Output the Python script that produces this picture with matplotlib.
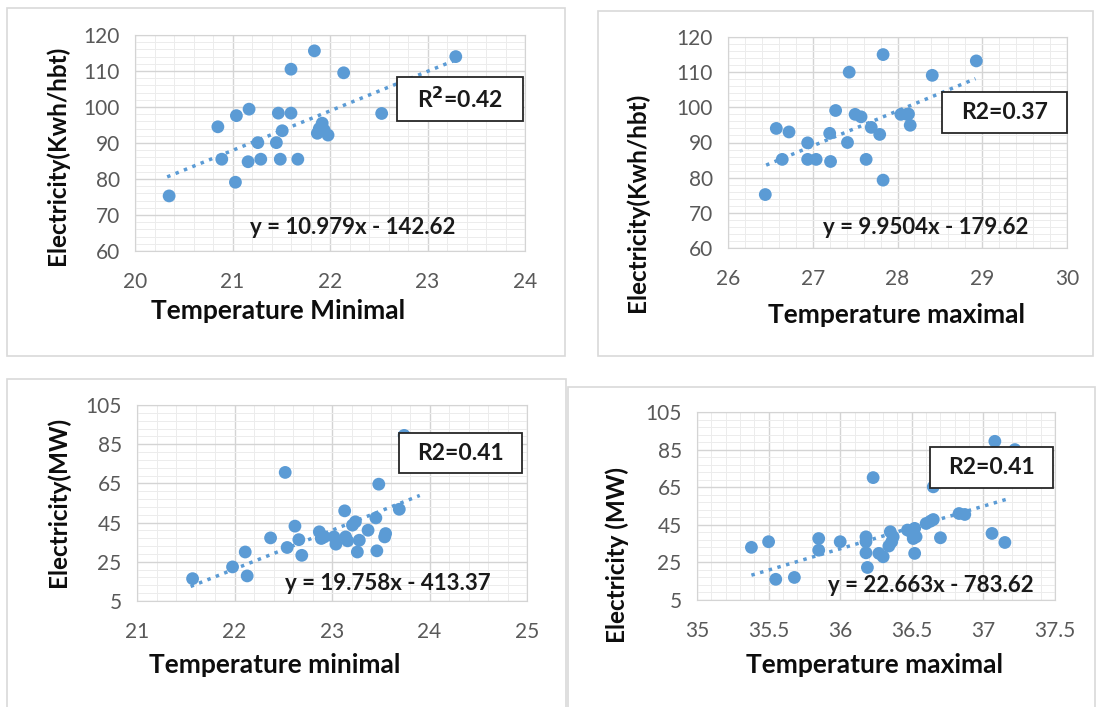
import matplotlib.pyplot as plt
from matplotlib.patches import Rectangle
from matplotlib.ticker import FixedLocator, AutoMinorLocator
import numpy as np

plt.rcParams['font.family'] = ['Lato', 'DejaVu Sans']

# panel 1: minimal temperature vs electricity (Kwh/hbt)
tmin1 = [20.35, 20.85, 20.89, 21.03, 21.04, 21.17, 21.16, 21.26, 21.29, 21.45, 21.47, 21.49,
         21.51, 21.60, 21.60, 21.67, 21.84, 21.87, 21.92, 21.94, 21.98, 21.89, 22.14, 22.53, 23.29]
elec1 = [75.3, 94.5, 85.5, 79.1, 97.6, 99.4, 84.8, 90.1, 85.5, 90.1, 98.3, 85.5,
         93.4, 110.5, 98.3, 85.5, 115.6, 92.7, 95.5, 93.6, 92.2, 94.0, 109.5, 98.2, 114.0]

# panel 2: maximal temperature vs electricity (Kwh/hbt)
tmax2 = [26.44, 26.57, 26.64, 26.72, 26.94, 26.94, 27.04, 27.20, 27.21, 27.27, 27.41, 27.43,
         27.50, 27.57, 27.63, 27.69, 27.79, 27.83, 27.83, 28.04, 28.11, 28.15, 28.13, 28.41, 28.93]
elec2 = [75.2, 94.0, 85.2, 93.0, 89.9, 85.2, 85.2, 92.6, 84.6, 99.1, 90.0, 110.0,
         98.0, 97.3, 85.2, 94.3, 92.3, 115.0, 79.3, 98.0, 98.0, 94.9, 98.1, 109.1, 113.2]

# panel 3: minimal temperature vs electricity (MW)
tmin3 = [21.57, 21.98, 22.11, 22.13, 22.37, 22.52, 22.54, 22.62, 22.66, 22.69, 22.87, 22.89,
         22.92, 23.02, 23.04, 23.13, 23.14, 23.16, 23.21, 23.24, 23.26, 23.28, 23.37, 23.45,
         23.46, 23.48, 23.54, 23.55, 23.69, 23.74]
elec3 = [16.4, 22.4, 30.0, 17.8, 37.2, 70.6, 32.3, 43.2, 36.3, 28.3, 40.3, 36.9,
         37.7, 37.7, 34.0, 51.0, 37.7, 35.7, 43.7, 45.4, 30.0, 36.0, 41.1, 47.4,
         30.6, 64.6, 37.7, 39.4, 51.8, 89.5]

# panel 4: maximal temperature vs electricity (MW)
tmax4 = [35.38, 35.50, 35.55, 35.68, 35.85, 35.85, 36.00, 36.18, 36.18, 36.18, 36.19, 36.23,
         36.27, 36.30, 36.34, 36.35, 36.36, 36.37, 36.47, 36.50, 36.51, 36.52, 36.52, 36.53,
         36.60, 36.63, 36.65, 36.65, 36.70, 36.83, 36.87, 37.06, 37.08, 37.15, 37.22]
elec4 = [33.0, 36.0, 16.0, 17.0, 37.7, 31.5, 36.0, 38.6, 36.0, 30.1, 22.3, 70.1,
         29.8, 28.0, 33.7, 41.3, 36.0, 38.6, 42.2, 40.8, 37.7, 43.1, 29.8, 38.6,
         45.7, 46.9, 65.2, 47.8, 38.1, 51.0, 50.5, 40.4, 89.4, 35.6, 85.0]

# trendlines as printed on the chart
slopes = [10.979, 9.9504, 19.758, 22.663]
intercepts = [-142.62, -179.62, -413.37, -783.62]
trend_ranges = [(20.33, 23.30), (26.45, 28.92), (21.55, 23.90), (35.38, 37.18)]
equations = ['y = 10.979x - 142.62', 'y = 9.9504x - 179.62',
             'y = 19.758x - 413.37', 'y = 22.663x - 783.62']
r2_text = ['R$^{\\mathbf{2}}$=0.42', 'R2=0.37', 'R2=0.41', 'R2=0.41']

xlabels = ['Temperature Minimal', 'Temperature maximal', 'Temperature minimal', 'Temperature maximal']
ylabels = ['Electricity(Kwh/hbt)', 'Electricity(Kwh/hbt)', 'Electricity(MW)', 'Electricity (MW)']
xticks = [[20, 21, 22, 23, 24], [26, 27, 28, 29, 30], [21, 22, 23, 24, 25],
          [35, 35.5, 36, 36.5, 37, 37.5]]
yticks = [[60, 70, 80, 90, 100, 110, 120], [60, 70, 80, 90, 100, 110, 120],
          [5, 25, 45, 65, 85, 105], [5, 25, 45, 65, 85, 105]]

xs = [tmin1, tmax2, tmin3, tmax4]
ys = [elec1, elec2, elec3, elec4]

W, H = 1096, 707
fig = plt.figure(figsize=(W / 100, H / 100), dpi=100)

def px_rect(l, t, r, b):
    return [l / W, (H - b) / H, (r - l) / W, (b - t) / H]

# layout in pixels
panel_boxes = [(7, 8, 565, 356), (598, 11, 1093, 356), (7, 379, 566, 712), (568, 387, 1095, 712)]
plot_areas = [(135, 35, 525, 251), (728, 37, 1067, 248), (137, 405, 527, 601), (697, 412, 1055, 600)]
r2_boxes = [(397, 77, 523, 121), (942, 92, 1067, 133), (399, 433, 522, 473), (930, 447, 1053, 488)]
eq_pos = [(353, 228), (926, 227), (388, 583), (931, 585)]
xlab_pos = [(278, 311), (897, 315), (275, 665), (875, 665)]
ylab_pos = [(57, 155), (637, 202), (58, 502), (617, 555)]

blue = '#5b9bd5'

for i in range(4):
    l, t, r, b = panel_boxes[i]
    fig.patches.append(Rectangle((l / W, (H - b) / H), (r - l) / W, (b - t) / H,
                                 transform=fig.transFigure, fill=False,
                                 edgecolor='#d9d9d9', lw=1.2))

    ax = fig.add_axes(px_rect(*plot_areas[i]))
    ax.set_xlim(xticks[i][0], xticks[i][-1])
    ax.set_ylim(yticks[i][0], yticks[i][-1])
    ax.xaxis.set_major_locator(FixedLocator(xticks[i]))
    ax.yaxis.set_major_locator(FixedLocator(yticks[i]))
    ax.xaxis.set_minor_locator(AutoMinorLocator(5))
    ax.yaxis.set_minor_locator(AutoMinorLocator(5))
    ax.grid(which='major', color='#d4d4d4', lw=1.0)
    ax.grid(which='minor', color='#ececec', lw=0.7)
    ax.set_axisbelow(True)
    for s in ax.spines.values():
        s.set_color('#d4d4d4')
    ax.tick_params(which='both', length=0, labelsize=15, colors='#595959')
    ax.tick_params(axis='y', pad=11)
    ax.tick_params(axis='x', pad=15)
    ax.xaxis.set_major_formatter(plt.FuncFormatter(lambda v, p: f'{v:g}'))

    ax.scatter(xs[i], ys[i], s=85, color=blue, edgecolors='none', zorder=3)
    x0, x1 = trend_ranges[i]
    tx = np.array([x0, x1])
    ax.plot(tx, slopes[i] * tx + intercepts[i], color=blue, lw=2.5,
            linestyle=(0, (1, 1.6)), zorder=4)

    # R2 box (drawn above the points, like in the original)
    bl, bt, br, bb = r2_boxes[i]
    fig.patches.append(Rectangle((bl / W, (H - bb) / H), (br - bl) / W, (bb - bt) / H,
                                 transform=fig.transFigure, facecolor='white',
                                 edgecolor='#262626', lw=1.3, zorder=5))
    fig.text((bl + br) / 2 / W, 1 - (bt + bb) / 2 / H, r2_text[i], ha='center', va='center',
             fontsize=16.5, fontweight='bold', color='#1a1a1a', zorder=6)

    ex, ey = eq_pos[i]
    fig.text(ex / W, 1 - ey / H, equations[i], ha='center', va='center',
             fontsize=16, fontweight='bold', color='#1a1a1a')

    lx, ly = xlab_pos[i]
    fig.text(lx / W, 1 - ly / H, xlabels[i], ha='center', va='center',
             fontsize=19, fontweight='bold', color='#0d0d0d')
    yx, yy = ylab_pos[i]
    fig.text(yx / W, 1 - yy / H, ylabels[i], ha='center', va='center', rotation=90,
             fontsize=17.5, fontweight='bold', color='#0d0d0d')

fig.savefig('out.png', dpi=100)
